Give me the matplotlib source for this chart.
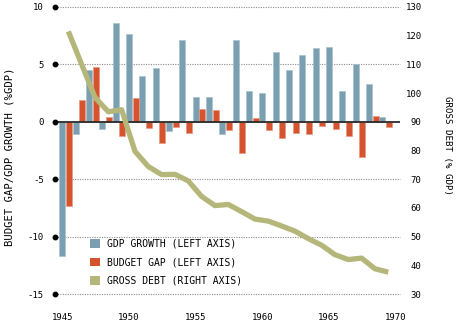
import matplotlib
matplotlib.use("Agg")
import matplotlib.pyplot as plt
from matplotlib.patches import Patch
import numpy as np

years = list(range(1945, 1970))
gdp_growth = [-11.7, -1.05, 4.47, -0.67, 8.57, 7.63, 3.95, 4.68, -0.79, 7.14,
              2.14, 2.19, -1.03, 7.1, 2.65, 2.53, 6.08, 4.48, 5.82, 6.43,
              6.52, 2.72, 5.0, 3.3, 0.41]
budget_gap = [-7.33, 1.87, 4.77, 0.38, -1.25, 2.1, -0.55, -1.87, -0.47, -0.96,
              1.11, 1.0, -0.73, -2.73, 0.31, -0.73, -1.44, -0.95, -1.05, -0.35,
              -0.61, -1.23, -3.04, 0.53, -0.44]
gross_debt = [121.5, 110.0, 98.5, 93.5, 94.2, 79.7, 74.4, 71.6, 71.7, 69.4,
              64.0, 60.8, 61.2, 58.7, 56.1, 55.4, 53.7, 51.9, 49.3, 47.0,
              43.7, 42.0, 42.5, 38.8, 37.6]
left_ticks = [10, 5, 0, -5, -10, -15]
right_ticks = [130, 120, 110, 100, 90, 80, 70, 60, 50, 40, 30]
x_ticks = [1945, 1950, 1955, 1960, 1965, 1970]
legend_labels = ["GDP GROWTH (LEFT AXIS)", "BUDGET GAP (LEFT AXIS)", "GROSS DEBT (RIGHT AXIS)"]

BLUE = "#7a9fb1"
RED = "#d5532e"
OLIVE = "#b5b77a"
MONO = "DejaVu Sans Mono"

W, H = 457, 323
fig = plt.figure(figsize=(W / 100, H / 100), dpi=100)
x0, x1, ytop, ybot = 55, 400, 7, 294
ax = fig.add_axes([x0 / W, 1 - ybot / H, (x1 - x0) / W, (ybot - ytop) / H])
ax2 = ax.twinx()

xr = np.array(years, dtype=float)
ax.bar(xr, gdp_growth, width=0.45, color=BLUE, edgecolor="#a9c2cd", linewidth=0.5, zorder=3)
ax.bar(xr + 0.5, budget_gap, width=0.45, color=RED, edgecolor="#e89a80", linewidth=0.5, zorder=3)

xmin, xmax = 1944.45, 1970.33
ax.set_xlim(xmin, xmax)
ax.set_ylim(-15, 10)
ax2.set_ylim(30, 130)

for t in left_ticks:
    if t == 0:
        continue
    ax.axhline(t, color="#8a8a8a", linewidth=0.8, linestyle=(0, (1, 1.2)), zorder=1, clip_on=False)
ax.axhline(0, color="#2b2b2b", linewidth=1.3, zorder=4)
ax.plot([xmin] * len(left_ticks), left_ticks, "o", color="black", markersize=3.2,
        clip_on=False, zorder=5)

ax2.plot(xr + 0.45, gross_debt, color=OLIVE, linewidth=3.8, solid_joinstyle="round",
         solid_capstyle="butt", zorder=6)
ax.set_zorder(ax2.get_zorder() - 1) if False else None
ax2.set_zorder(2)
ax.patch.set_visible(False)

for a in (ax, ax2):
    for s in a.spines.values():
        s.set_visible(False)

ax.set_xticks(x_ticks)
ax.set_xticklabels([str(v) for v in x_ticks], fontfamily=MONO, fontsize=6.5)
ax.tick_params(axis="x", length=0, pad=14)
ax.set_yticks(left_ticks)
ax.set_yticklabels([str(v) for v in left_ticks], fontfamily=MONO, fontsize=6.5)
ax.tick_params(axis="y", length=0, pad=8)

ax2.set_yticks(right_ticks)
ax2.set_yticklabels([str(v) for v in right_ticks], fontfamily=MONO, fontsize=6.5)
ax2.tick_params(axis="y", length=0, pad=15.5)
for lab in ax2.get_yticklabels():
    lab.set_horizontalalignment("right")

fig.text(10 / W, 1 - 157 / H, "BUDGET GAP/GDP GROWTH (%GDP)", rotation=90,
         ha="center", va="center", fontfamily=MONO, fontsize=7.6)
fig.text(447 / W, 1 - 146 / H, "GROSS DEBT (% GDP)", rotation=-90,
         ha="center", va="center", fontfamily=MONO, fontsize=6.6)

handles = [Patch(facecolor=BLUE, edgecolor="none"),
           Patch(facecolor=RED, edgecolor="none"),
           Patch(facecolor=OLIVE, edgecolor="none")]
ax2.legend(handles, legend_labels, loc="upper left",
           bbox_to_anchor=(90 / W, 1 - 239 / H), bbox_transform=fig.transFigure,
           frameon=False, borderaxespad=0, borderpad=0,
           prop={"family": MONO, "size": 7}, handlelength=1.0, handleheight=1.0,
           handletextpad=0.75, labelspacing=0.85)

fig.savefig("out.png", dpi=100)
